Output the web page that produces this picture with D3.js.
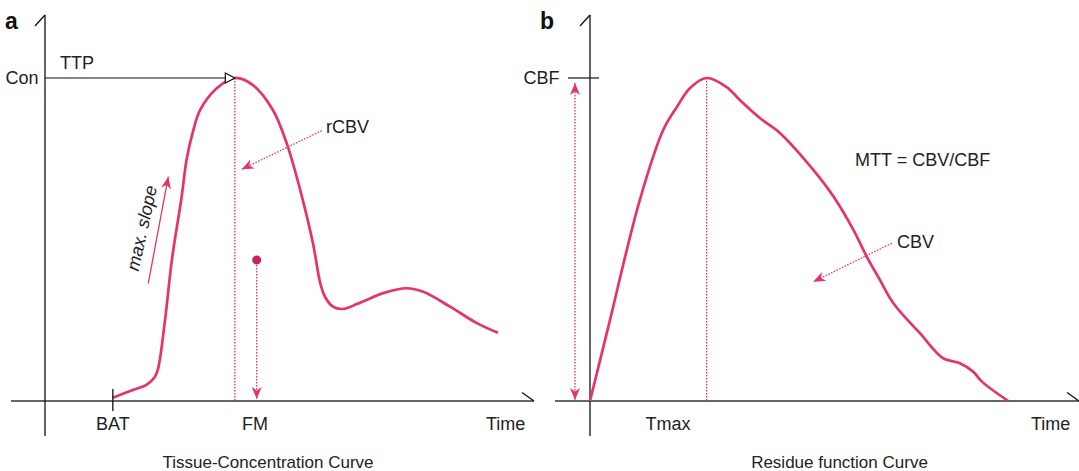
<!DOCTYPE html>
<head>
  <meta charset='utf-8'>
  <style>
      body { margin: 0; background: #fff; }
      text {
        font-family: 'Liberation Sans', Arial, sans-serif;
        fill: #222;
      }
      .label { font-size: 18px; }
      .title { font-size: 17px; }
      .panel-id { font-size: 23px; font-weight: bold; fill: #111; }
      .axis-line { stroke: #111; stroke-width: 1.3px; fill: none; }
      .base-line { stroke: #666; stroke-width: 2px; fill: none; }
      .curve { stroke: #e8326a; stroke-width: 2.7px; fill: none; }
      .dotted { stroke: #e8326a; stroke-width: 1.3px; stroke-dasharray: 1.5 1.5; fill: none; }
      .slope { stroke: #e8326a; stroke-width: 1.3px; fill: none; }
  </style>
</head>
<body>
<script src='https://d3js.org/d3.v7.min.js'></script>
<script>
    var
        W = 1079,
        H = 471,
        PANEL_SHIFT = 545;

    // tissue-concentration curve: time (0..100) and concentration (0..100, peak = Con)
    var concTime = [13.9, 18.0, 20.8, 22.5, 23.2, 24.6, 26.0, 28.0, 29.0, 30.3, 31.8, 35.2, 38.9,
                    42.6, 46.7, 49.5, 52.3, 54.9, 56.4, 57.4, 59.0, 61.1, 63.9, 65.9, 69.3, 74.1,
                    77.5, 83.0, 88.5, 92.8];
    var concValue = [1.0, 3.4, 5.0, 7.4, 10.2, 25.1, 43.7, 63.2, 74.6, 83.3, 90.1, 96.8, 100,
                     97.8, 90.1, 79.9, 65.3, 48.9, 36.5, 32.2, 29.2, 28.5, 30.0, 31.3, 33.4, 34.9,
                     33.8, 29.2, 24.1, 21.1];

    // residue function curve: time (0..100) and flow (0..100, peak = CBF)
    var resTime = [0, 3.6, 10.2, 15.0, 17.8, 20.5, 23.9, 28.0, 30.7, 34.8, 38.9, 45.8, 49.9,
                   54.0, 56.7, 59.4, 62.2, 67.6, 72.4, 75.8, 78.5, 80.3, 85.7];
    var resValue = [0, 22.0, 62.2, 83.9, 91.0, 96.9, 100, 97.2, 93.2, 87.6, 83.0, 71.5, 63.3,
                    52.9, 44.7, 37.5, 30.2, 21.0, 13.2, 11.7, 9.1, 6.0, 0];

    var panelIds = ['a', 'b'];
    var titles = ['Tissue-Concentration Curve', 'Residue function Curve'];
    var xLabels = ['Time', 'Time'];

    var x = d3.scaleLinear().domain([0, 100]).range([45, 533]),
        y = d3.scaleLinear().domain([0, 100]).range([401, 78]);

    var line = d3.line()
        .x(function(d) { return x(d[0]); })
        .y(function(d) { return y(d[1]); })
        .curve(d3.curveCatmullRom.alpha(0.5));

    var concData = d3.zip(concTime, concValue),
        resData = d3.zip(resTime, resValue),
        concPeak = concData[d3.maxIndex(concValue)],
        resPeak = resData[d3.maxIndex(resValue)];

    var svg = d3.select('body').append('svg')
        .attr('width', W)
        .attr('height', H);

    var defs = svg.append('defs');
    defs.append('marker')
        .attr('id', 'head')
        .attr('markerUnits', 'userSpaceOnUse')
        .attr('markerWidth', 14)
        .attr('markerHeight', 12)
        .attr('refX', 12)
        .attr('refY', 5)
        .attr('orient', 'auto-start-reverse')
      .append('path')
        .attr('d', 'M12,5 L0,0 L3.5,5 L0,10 Z')
        .attr('fill', '#e8326a');

    var gA = svg.append('g'),
        gB = svg.append('g').attr('transform', 'translate(' + PANEL_SHIFT + ',0)');

    // shared axes for both panels
    [gA, gB].forEach(function(g, i) {
        g.append('line').attr('class', 'base-line')
            .attr('x1', x(0) - (i ? 35 : 34)).attr('x2', x(100) + 1)
            .attr('y1', y(0)).attr('y2', y(0));
        g.append('path').attr('class', 'axis-line')
            .attr('d', 'M' + (x(100) - 11) + ',' + (y(0) - 8.5) + 'L' + (x(100) + 1) + ',' + y(0));
        g.append('line').attr('class', 'axis-line')
            .attr('x1', x(0)).attr('x2', x(0))
            .attr('y1', 15).attr('y2', 436);
        g.append('path').attr('class', 'axis-line')
            .attr('d', 'M' + (x(0) - 10) + ',26L' + x(0) + ',15');
        g.append('text').attr('class', 'panel-id')
            .attr('x', i ? -5 : 5).attr('y', 29)
            .text(panelIds[i]);
        g.append('text').attr('class', 'label')
            .attr('x', x(100) - 47).attr('y', 430)
            .text(xLabels[i]);
    });

    // ---- panel a ----
    gA.append('line').attr('class', 'dotted')
        .attr('x1', x(concPeak[0])).attr('x2', x(concPeak[0]))
        .attr('y1', y(concPeak[1])).attr('y2', y(0));

    gA.append('path').attr('class', 'curve')
        .datum(concData)
        .attr('d', line);

    // TTP line with open arrowhead
    gA.append('line')
        .attr('x1', x(0)).attr('x2', x(concPeak[0]) - 9)
        .attr('y1', y(100)).attr('y2', y(100))
        .attr('stroke', '#111').attr('stroke-width', 1.2);
    gA.append('path')
        .attr('d', 'M' + (x(concPeak[0]) - 9.5) + ',' + (y(100) - 5) +
                   'L' + x(concPeak[0]) + ',' + y(100) +
                   'L' + (x(concPeak[0]) - 9.5) + ',' + (y(100) + 5) + 'Z')
        .attr('fill', '#fff').attr('stroke', '#111').attr('stroke-width', 1.2);
    gA.append('text').attr('class', 'label')
        .attr('x', 60).attr('y', 69).text('TTP');
    gA.append('text').attr('class', 'label')
        .attr('x', 38.5).attr('y', y(100)).attr('dy', '0.35em')
        .attr('text-anchor', 'end').text('Con');

    // BAT tick
    gA.append('line')
        .attr('x1', x(concTime[0])).attr('x2', x(concTime[0]))
        .attr('y1', y(0) - 12).attr('y2', y(0) + 10)
        .attr('stroke', '#111').attr('stroke-width', 1.3);
    gA.append('text').attr('class', 'label')
        .attr('x', x(concTime[0])).attr('y', 430)
        .attr('text-anchor', 'middle').text('BAT');
    gA.append('text').attr('class', 'label')
        .attr('x', 255).attr('y', 430)
        .attr('text-anchor', 'middle').text('FM');

    // rCBV pointer
    gA.append('line').attr('class', 'dotted')
        .attr('x1', 321.7).attr('y1', 130.7)
        .attr('x2', 241.7).attr('y2', 169.3)
        .attr('marker-end', 'url(#head)');
    gA.append('text').attr('class', 'label')
        .attr('x', 326).attr('y', 133).text('rCBV');

    // max slope arrow
    gA.append('line').attr('class', 'slope')
        .attr('x1', 148.3).attr('y1', 283.3)
        .attr('x2', 168.3).attr('y2', 176.7)
        .attr('marker-end', 'url(#head)');
    gA.append('text').attr('class', 'label')
        .attr('transform', 'translate(141.7,228) rotate(-77.6)')
        .attr('text-anchor', 'middle').attr('dy', '0.35em')
        .style('font-style', 'italic')
        .text('max. slope');

    // first moment marker
    gA.append('line').attr('class', 'dotted')
        .attr('x1', 256.7).attr('x2', 256.7)
        .attr('y1', 262).attr('y2', y(0) - 2)
        .attr('marker-end', 'url(#head)');
    gA.append('circle')
        .attr('cx', 256.7).attr('cy', 260).attr('r', 4.5)
        .attr('fill', '#c7245c');

    gA.append('text').attr('class', 'title')
        .attr('x', 268).attr('y', 468)
        .attr('text-anchor', 'middle').text(titles[0]);

    // ---- panel b ----
    gB.append('line').attr('class', 'dotted')
        .attr('x1', x(resPeak[0])).attr('x2', x(resPeak[0]))
        .attr('y1', y(resPeak[1])).attr('y2', y(0));

    gB.append('path').attr('class', 'curve')
        .datum(resData)
        .attr('d', line);

    gB.append('line')
        .attr('x1', x(0) - 22).attr('x2', x(0) + 9)
        .attr('y1', y(100)).attr('y2', y(100))
        .attr('stroke', '#111').attr('stroke-width', 1.2);
    gB.append('text').attr('class', 'label')
        .attr('x', 14.5).attr('y', y(100)).attr('dy', '0.35em')
        .attr('text-anchor', 'end').text('CBF');

    gB.append('line').attr('class', 'dotted')
        .attr('x1', 30).attr('x2', 30)
        .attr('y1', y(100) + 5).attr('y2', y(0) - 1)
        .attr('marker-start', 'url(#head)')
        .attr('marker-end', 'url(#head)');

    gB.append('text').attr('class', 'label')
        .attr('x', 123).attr('y', 430)
        .attr('text-anchor', 'middle').text('Tmax');

    gB.append('text').attr('class', 'label')
        .attr('x', 310).attr('y', 166).text('MTT = CBV/CBF');

    gB.append('line').attr('class', 'dotted')
        .attr('x1', 346.7).attr('y1', 243.3)
        .attr('x2', 268.3).attr('y2', 281.7)
        .attr('marker-end', 'url(#head)');
    gB.append('text').attr('class', 'label')
        .attr('x', 352).attr('y', 248).text('CBV');

    gB.append('text').attr('class', 'title')
        .attr('x', 294.5).attr('y', 468)
        .attr('text-anchor', 'middle').text(titles[1]);
</script>
</body>
